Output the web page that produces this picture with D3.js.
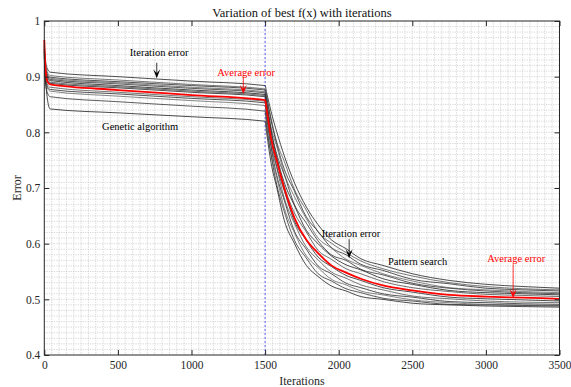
<!DOCTYPE html>
<html>
<head>
<meta charset="utf-8">
<script src="https://cdn.jsdelivr.net/npm/d3@7"></script>
<style>
    body { margin: 0; background: #fff; }
    svg { display: block; font-family: "Liberation Serif", "Times New Roman", serif; }
</style>
</head>
<body>
<div id="chart"></div>
<script>
// iteration samples: genetic algorithm phase, then pattern search phase
var itersGA = [0, 8, 20, 40, 500, 1000, 1500];
var itersPS = [1510, 1540, 1580, 1630, 1700, 1780, 1860, 1950, 2050, 2150, 2300, 2500, 2750, 3000, 3250, 3500];

// each run, genetic algorithm part
var gaRuns = [
    [0.958, 0.930, 0.915, 0.908, 0.900, 0.892, 0.884],
    [0.950, 0.922, 0.909, 0.902, 0.894, 0.886, 0.878],
    [0.955, 0.918, 0.905, 0.899, 0.891, 0.884, 0.876],
    [0.948, 0.915, 0.903, 0.897, 0.889, 0.881, 0.873],
    [0.952, 0.912, 0.901, 0.895, 0.887, 0.879, 0.871],
    [0.945, 0.910, 0.899, 0.893, 0.884, 0.876, 0.868],
    [0.950, 0.906, 0.896, 0.890, 0.882, 0.874, 0.866],
    [0.940, 0.904, 0.894, 0.888, 0.880, 0.872, 0.864],
    [0.946, 0.900, 0.887, 0.881, 0.872, 0.864, 0.856],
    [0.938, 0.896, 0.883, 0.877, 0.869, 0.861, 0.853],
    [0.942, 0.893, 0.880, 0.874, 0.865, 0.857, 0.848],
    [0.935, 0.889, 0.872, 0.864, 0.855, 0.847, 0.838],
    [0.945, 0.900, 0.862, 0.842, 0.835, 0.828, 0.820]
];

// each run, pattern search part
var psRuns = [
    [0.872, 0.838, 0.800, 0.758, 0.709, 0.666, 0.634, 0.607, 0.591, 0.573, 0.561, 0.546, 0.534, 0.527, 0.523, 0.520],
    [0.866, 0.826, 0.782, 0.748, 0.697, 0.660, 0.621, 0.601, 0.584, 0.569, 0.555, 0.542, 0.530, 0.523, 0.519, 0.517],
    [0.862, 0.822, 0.778, 0.734, 0.694, 0.648, 0.622, 0.593, 0.580, 0.563, 0.552, 0.536, 0.528, 0.520, 0.517, 0.515],
    [0.858, 0.810, 0.774, 0.726, 0.684, 0.645, 0.610, 0.592, 0.572, 0.561, 0.546, 0.533, 0.521, 0.517, 0.514, 0.512],
    [0.855, 0.806, 0.760, 0.724, 0.670, 0.637, 0.605, 0.580, 0.570, 0.554, 0.544, 0.529, 0.520, 0.515, 0.512, 0.510],
    [0.850, 0.802, 0.755, 0.710, 0.668, 0.624, 0.600, 0.578, 0.562, 0.553, 0.537, 0.527, 0.516, 0.512, 0.510, 0.508],
    [0.846, 0.793, 0.752, 0.703, 0.655, 0.621, 0.588, 0.572, 0.555, 0.546, 0.532, 0.521, 0.514, 0.509, 0.507, 0.505],
    [0.840, 0.788, 0.738, 0.695, 0.640, 0.606, 0.576, 0.559, 0.543, 0.534, 0.521, 0.513, 0.504, 0.501, 0.499, 0.497],
    [0.835, 0.778, 0.735, 0.682, 0.636, 0.594, 0.571, 0.549, 0.538, 0.526, 0.517, 0.506, 0.501, 0.497, 0.495, 0.494],
    [0.828, 0.774, 0.722, 0.678, 0.622, 0.590, 0.560, 0.546, 0.529, 0.521, 0.510, 0.504, 0.496, 0.494, 0.492, 0.491],
    [0.820, 0.763, 0.718, 0.664, 0.619, 0.578, 0.557, 0.536, 0.526, 0.515, 0.508, 0.499, 0.494, 0.491, 0.490, 0.489],
    [0.812, 0.760, 0.705, 0.658, 0.606, 0.574, 0.546, 0.533, 0.519, 0.512, 0.502, 0.497, 0.491, 0.490, 0.489, 0.488],
    [0.800, 0.746, 0.700, 0.642, 0.600, 0.561, 0.541, 0.524, 0.515, 0.505, 0.500, 0.493, 0.490, 0.488, 0.487, 0.486]
];

// average error (red)
var avgGA = [0.966, 0.915, 0.892, 0.886, 0.876, 0.867, 0.858];
var avgPS = [0.842, 0.790, 0.748, 0.700, 0.646, 0.607, 0.583, 0.561, 0.548, 0.537, 0.525, 0.516, 0.508, 0.505, 0.503, 0.501];

var xTicks = [0, 500, 1000, 1500, 2000, 2500, 3000, 3500];
var yTicks = [0.4, 0.5, 0.6, 0.7, 0.8, 0.9, 1];
var switchIter = 1500;

// annotations
var noteText = ["Iteration error", "Average error", "Genetic algorithm", "Iteration error", "Pattern search", "Average error"];
var noteIter = [780, 1371, 651, 2084, 2536, 3206];
var noteErr = [0.937, 0.901, 0.804, 0.612, 0.562, 0.567];
var noteColor = ["#000", "#ff0000", "#000", "#000", "#000", "#ff0000"];
var arrowIter = [764, 1352, 2071, 3185];
var arrowFrom = [0.925, 0.899, 0.608, 0.563];
var arrowTo = [0.897, 0.869, 0.574, 0.502];
var arrowColor = ["#000", "#ff0000", "#000", "#ff0000"];

var serif = '"Liberation Serif", "Times New Roman", serif';

var margin = { top: 21, right: 11.5, bottom: 32, left: 44.3 },
    width = 571 - margin.left - margin.right,
    height = 387 - margin.top - margin.bottom;

var root = d3.select("#chart")
    .append("svg")
    .attr("width", 571)
    .attr("height", 387)
    .attr("font-family", serif);

root.append("rect").attr("width", 571).attr("height", 387).attr("fill", "#fff");

var svg = root.append("g")
    .attr("transform", "translate(" + margin.left + "," + margin.top + ")");

var x = d3.scaleLinear().domain([0, 3500]).range([0, width]);
var y = d3.scaleLinear().domain([0.4, 1]).range([height, 0]);

// minor grid
var grid = svg.append("g")
    .attr("stroke", "#bcbcbc")
    .attr("stroke-width", 0.6)
    .attr("stroke-dasharray", "1.2,1.2");
grid.selectAll(".gx")
    .data(d3.range(50, 3500, 50))
    .enter().append("line")
    .attr("x1", d => x(d)).attr("x2", d => x(d))
    .attr("y1", 0).attr("y2", height);
grid.selectAll(".gy")
    .data(d3.range(41, 100).map(d => d / 100))
    .enter().append("line")
    .attr("y1", d => y(d)).attr("y2", d => y(d))
    .attr("x1", 0).attr("x2", width);

// switch marker
svg.append("line")
    .attr("x1", x(switchIter)).attr("x2", x(switchIter))
    .attr("y1", 0).attr("y2", height)
    .attr("stroke", "#3b3bff")
    .attr("stroke-width", 0.8)
    .attr("stroke-dasharray", "2,2");

var line = d3.line()
    .x(d => x(d[0]))
    .y(d => y(d[1]))
    .curve(d3.curveMonotoneX);

var allIters = itersGA.concat(itersPS);
var shades = ["#222", "#555", "#2a2a2a", "#666", "#333", "#1e1e1e", "#4a4a4a"];

gaRuns.forEach((run, i) => {
    var vals = run.concat(psRuns[i]);
    svg.append("path")
        .datum(allIters.map((it, j) => [it, vals[j]]))
        .attr("fill", "none")
        .attr("stroke", shades[i % shades.length])
        .attr("stroke-width", 0.8)
        .attr("d", line);
});

var avgVals = avgGA.concat(avgPS);
svg.append("path")
    .datum(allIters.map((it, j) => [it, avgVals[j]]))
    .attr("fill", "none")
    .attr("stroke", "#ff0000")
    .attr("stroke-width", 1.8)
    .attr("d", line);

// axes, ticks pointing inward
var axisStyle = g => {
    g.attr("font-family", serif).attr("font-size", 11.5);
    g.select(".domain").remove();
    g.selectAll("line").attr("stroke", "#262626");
    g.selectAll("text").attr("fill", "#262626");
};

svg.append("g")
    .attr("transform", "translate(0," + height + ")")
    .call(d3.axisBottom(x).tickValues(xTicks).tickSize(-5).tickPadding(6).tickFormat(d3.format("d")))
    .call(axisStyle);
svg.append("g")
    .call(d3.axisTop(x).tickValues(xTicks).tickSize(-5).tickFormat(""))
    .call(axisStyle);
svg.append("g")
    .call(d3.axisLeft(y).tickValues(yTicks).tickSize(-5).tickPadding(4)
        .tickFormat(d => String(+d.toFixed(1))))
    .call(axisStyle);
svg.append("g")
    .attr("transform", "translate(" + width + ",0)")
    .call(d3.axisRight(y).tickValues(yTicks).tickSize(-5).tickFormat(""))
    .call(axisStyle);

svg.append("rect")
    .attr("width", width).attr("height", height)
    .attr("fill", "none")
    .attr("stroke", "#262626")
    .attr("stroke-width", 1);

// annotations
noteText.forEach((t, i) => {
    svg.append("text")
        .attr("x", x(noteIter[i]))
        .attr("y", y(noteErr[i]))
        .attr("text-anchor", "middle")
        .attr("fill", noteColor[i])
        .attr("font-family", serif)
        .attr("font-size", 10.5)
        .text(t);
});

arrowIter.forEach((a, i) => {
    var ax = x(a), y0 = y(arrowFrom[i]), y1 = y(arrowTo[i]);
    svg.append("line")
        .attr("x1", ax).attr("x2", ax)
        .attr("y1", y0).attr("y2", y1 - 4)
        .attr("stroke", arrowColor[i])
        .attr("stroke-width", 0.8);
    svg.append("path")
        .attr("d", "M" + (ax - 3.5) + "," + (y1 - 9) + "L" + ax + "," + y1 +
            "L" + (ax + 3.5) + "," + (y1 - 9) + "L" + ax + "," + (y1 - 5) + "Z")
        .attr("fill", arrowColor[i]);
});

// titles
root.append("text")
    .attr("x", margin.left + width / 2)
    .attr("y", 17)
    .attr("text-anchor", "middle")
    .attr("fill", "#111")
    .attr("font-family", serif)
    .attr("font-size", 12.5)
    .text("Variation of best f(x) with iterations");

root.append("text")
    .attr("x", margin.left + width / 2)
    .attr("y", 385)
    .attr("text-anchor", "middle")
    .attr("fill", "#262626")
    .attr("font-family", serif)
    .attr("font-size", 12)
    .text("Iterations");

root.append("text")
    .attr("transform", "translate(21," + (margin.top + height / 2) + ") rotate(-90)")
    .attr("text-anchor", "middle")
    .attr("fill", "#262626")
    .attr("font-family", serif)
    .attr("font-size", 12)
    .text("Error");
</script>
</body>
</html>
